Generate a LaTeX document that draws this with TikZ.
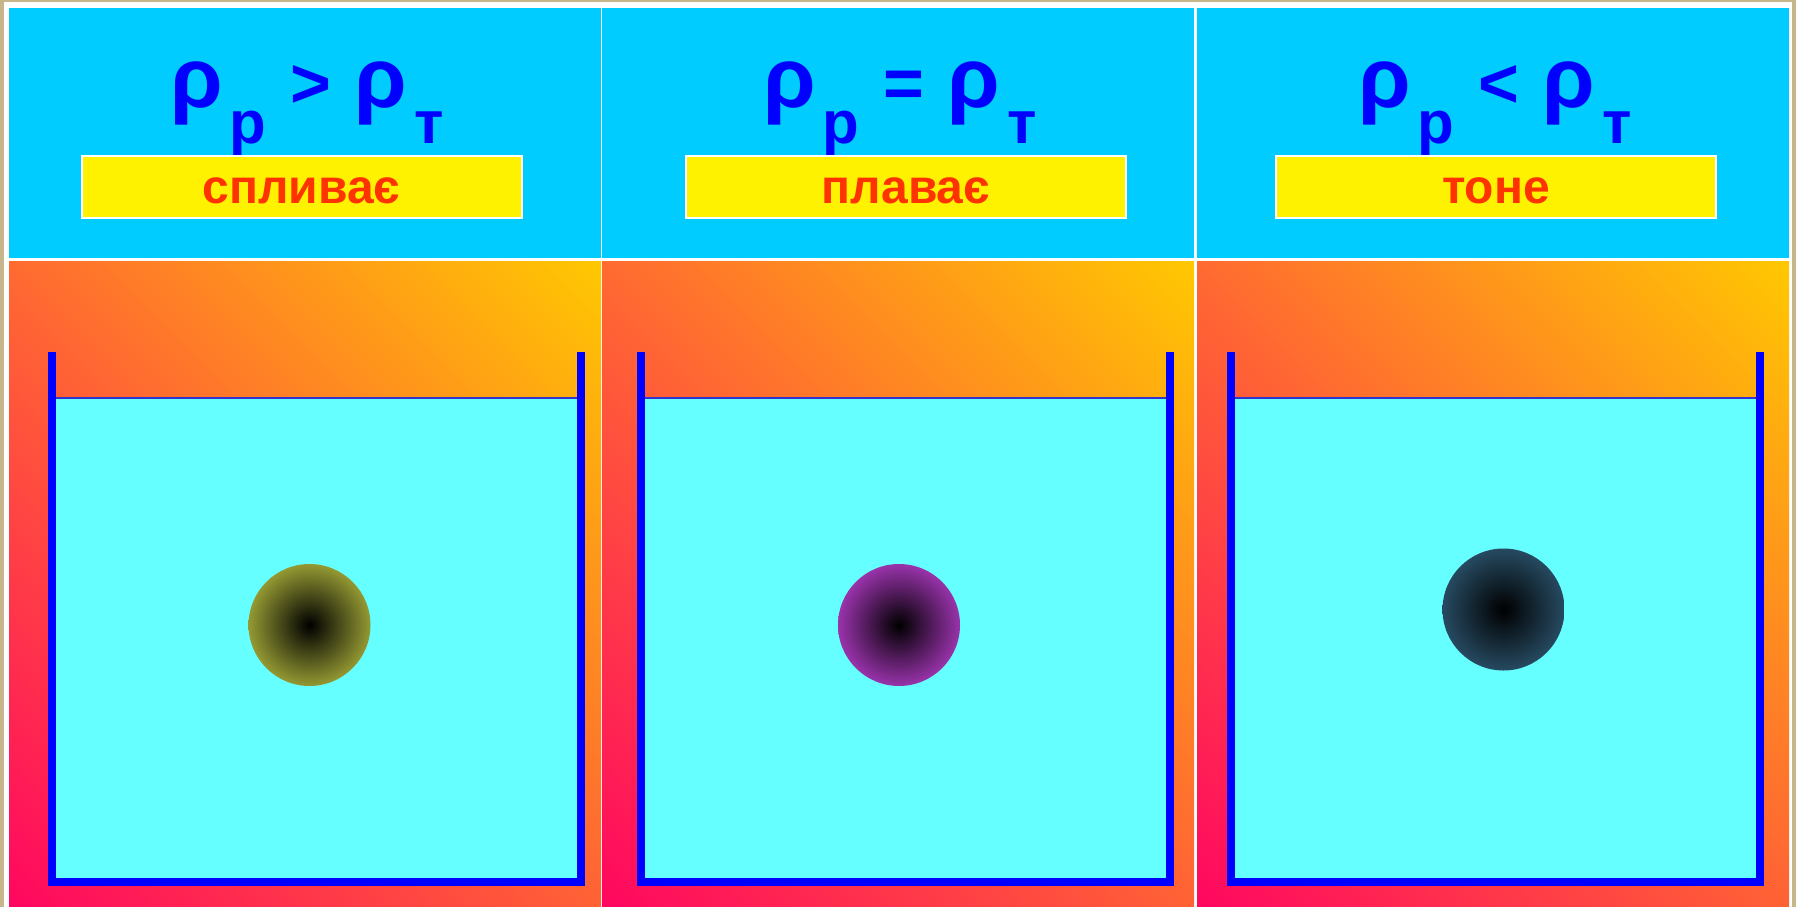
\documentclass[tikz,border=0pt]{standalone}
\usepackage{fontspec}
\setmainfont{Liberation Sans}
\usetikzlibrary{positioning}
\definecolor{frametan}{rgb}{0.78,0.71,0.55}
\definecolor{headblue}{rgb}{0,0.8,1}
\definecolor{waterblue}{rgb}{0.4,1,1}
\definecolor{waterline}{rgb}{0.2,0.2,0.8}
\definecolor{wordred}{rgb}{1,0.2,0}
\definecolor{bgpink}{rgb}{1,0.02,0.38}
\definecolor{bgorange}{rgb}{1,0.4,0.2}
\definecolor{bgyellow}{rgb}{1,0.79,0}
\definecolor{ballolive}{rgb}{0.58,0.6,0.2}
\definecolor{ballpurple}{rgb}{0.6,0.2,0.67}
\definecolor{ballslate}{rgb}{0.15,0.29,0.38}
\pgfdeclareverticalshading{sunset}{100bp}{color(0bp)=(bgpink); color(14bp)=(bgpink);
  color(50bp)=(bgorange); color(86bp)=(bgyellow); color(100bp)=(bgyellow)}
\newcommand{\lowidx}[1]{\hspace{7pt}\raisebox{-36pt}{\fontsize{60}{60}\selectfont #1}}
\newcommand{\relsym}[1]{{\fontsize{70}{70}\selectfont #1}}
\tikzset{
  header/.style={
    fill=headblue
  },
  backdrop/.style={
    shading=sunset,
    shading angle=-45
  },
  relation/.style={
    text=blue,
    font=\bfseries\fontsize{85}{85}\selectfont,
    inner sep=0pt,
    anchor=base
  },
  word/.style={
    draw=white,
    line width=2pt,
    fill=yellow,
    text=wordred,
    font=\bfseries\fontsize{48}{48}\selectfont,
    minimum width=440pt,
    minimum height=62pt,
    text height=35pt,
    text depth=2pt,
    inner sep=0pt
  },
  water/.style={
    fill=waterblue
  },
  wall/.style={
    draw=blue,
    line width=8pt,
    line join=miter
  },
  ball/.style={
    circle,
    minimum size=122pt,
    inner sep=0pt,
    inner color=black
  }
}

\begin{document}
\begin{tikzpicture}[x=1pt,y=-1pt]
\fill[frametan] (0,0) rectangle (1796,907);
\fill[white] (3.5,2.5) rectangle (1792,907);
\foreach \i/\x/\lx/\tx/\rel/\w/\bx/\by/\bc in {
  1/9/301.5/52/>/спливає/309.5/625/ballolive,
  2/602/906/641/=/плаває/899/625/ballpurple,
  3/1197/1496/1231/</тоне/1503.5/609.5/ballslate}
{
  \fill[header] (\x,8) rectangle ++(592,250);
  \shade[backdrop] (\x,261) rectangle ++(592,646);
  \node[relation] (rho\i) at (\x+298,107) {ρ\lowidx{р} \relsym{\rel} ρ\lowidx{т}};
  \node[word] (word\i) at (\lx,186.5) {\w};
  \fill[water] (\tx,398) rectangle (\tx+529,882);
  \draw[waterline, line width=2pt] (\tx,398) -- (\tx+529,398);
  \draw[wall] (\tx,352) -- (\tx,882) -- (\tx+529,882) -- (\tx+529,352);
  \node[ball, outer color=\bc] (ball\i) at (\bx,\by) {};
}
\end{tikzpicture}
\end{document}
